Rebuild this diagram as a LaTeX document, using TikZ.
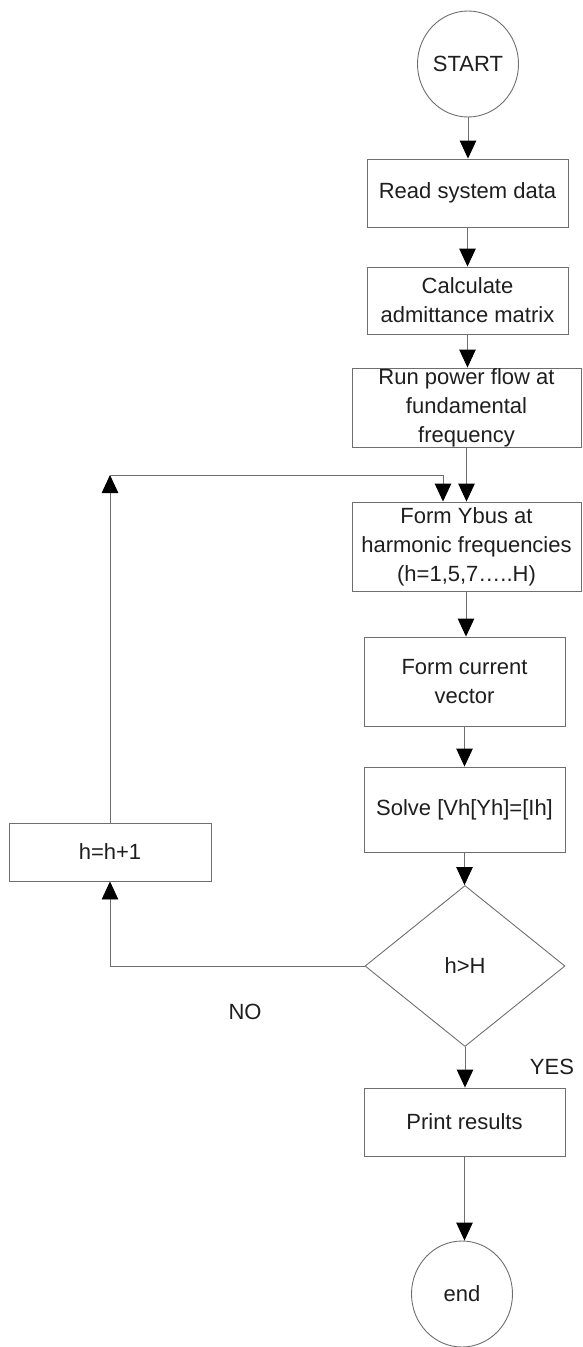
\documentclass[tikz,border=0pt]{standalone}
\usepackage{fontspec}
\setmainfont{Liberation Sans}
\usetikzlibrary{arrows.meta,shapes.geometric}
\definecolor{linegray}{RGB}{110,110,110}
\definecolor{textblack}{RGB}{30,30,30}
\begin{document}
\begin{tikzpicture}[x=1pt,y=-1pt,
  every node/.style={font=\fontsize{22pt}{29pt}\selectfont, text=textblack},
  procbox/.style={draw=linegray, line width=0.9pt, rectangle, inner sep=0pt, align=center},
  term/.style={draw=linegray, line width=0.9pt, ellipse, inner sep=0pt, minimum width=101pt, minimum height=106pt},
  decision/.style={draw=linegray, line width=0.9pt, diamond, inner sep=0pt, minimum width=200pt, minimum height=161pt},
  conn/.style={draw=linegray, line width=0.9pt},
  arr/.style={conn, -{Triangle[width=16.5pt,length=18pt,fill=black,color=black]}},
  lbl/.style={inner sep=0pt}]
\useasboundingbox (0,0) rectangle (582,1347);
\node[term] (start) at (468,64) {START};
\node[procbox, minimum width=201pt, minimum height=68pt] (read) at (467.5,193) {Read system data};
\node[procbox, minimum width=201pt, minimum height=67pt] (calc) at (467.5,300.5) {Calculate\\admittance matrix};
\node[procbox, minimum width=229pt, minimum height=79pt] (run) at (466.5,407.5) {Run power flow at\\fundamental\\frequency};
\node[procbox, minimum width=229pt, minimum height=89pt] (ybus) at (466.5,546.5) {Form Ybus at\\harmonic frequencies\\(h=1,5,7\ldots..H)};
\node[procbox, minimum width=201pt, minimum height=89pt] (cur) at (464.5,681.5) {Form current\\vector};
\node[procbox, minimum width=201pt, minimum height=85pt] (solve) at (464.5,809.5) {Solve [Vh[Yh]=[Ih]};
\node[decision] (dec) at (465,966) {h>H};
\node[procbox, minimum width=202pt, minimum height=58pt] (inc) at (110,852) {h=h+1};
\node[procbox, minimum width=201pt, minimum height=68pt] (print) at (464.5,1122) {Print results};
\node[term] (stop) at (462,1294) {end};
\node[lbl] (no) at (245,1012) {NO};
\node[lbl] (yes) at (552,1067) {YES};
\coordinate (tl) at (110,475);
\coordinate (tr) at (443,475);
\draw[arr] (start.south) -- (start.south |- read.north);
\draw[arr] (read.south) -- (read.south |- calc.north);
\draw[arr] (calc.south) -- (calc.south |- run.north);
\draw[arr] (run.south) -- (run.south |- ybus.north);
\draw[arr] (ybus.south -| 466,0) -- (466,0 |- cur.north);
\draw[arr] (cur.south) -- (solve.north);
\draw[arr] (solve.south) -- (solve.south |- dec.north);
\draw[arr] (dec.south) -- (dec.south |- print.north);
\draw[arr] (print.south) -- (print.south |- stop.north);
\draw[arr] (dec.west) -| (inc.south);
\draw[arr] (inc.north) -- (tl);
\draw[conn] (tl) -- (tr);
\draw[arr] (tr) -- (tr |- ybus.north);
\end{tikzpicture}
\end{document}
